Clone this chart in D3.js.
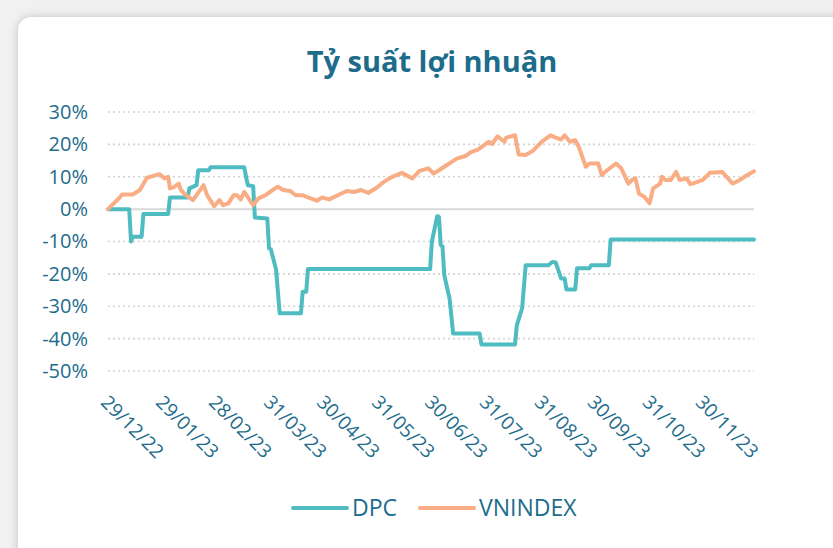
<!DOCTYPE html>
<html>
<head>
<meta charset="utf-8">
<script src="https://cdn.jsdelivr.net/npm/d3@7"></script>
<style>
  html, body { margin: 0; padding: 0; background: #f1f1f1; }
  svg { display: block; font-family: "Open Sans", "Noto Sans", sans-serif; }
</style>
</head>
<body>
<script>
// Chart data (percent returns)
const seriesNames = ['DPC', 'VNINDEX'];

const dpcDates = ['2022-12-29','2023-01-10','2023-01-11','2023-01-12','2023-01-17','2023-01-18','2023-02-01','2023-02-02',
  '2023-02-12','2023-02-13','2023-02-17','2023-02-18','2023-02-24','2023-02-25','2023-03-16','2023-03-17','2023-03-18',
  '2023-03-21','2023-03-22','2023-03-29','2023-03-30','2023-03-31','2023-04-03','2023-04-05','2023-04-17','2023-04-18',
  '2023-04-20','2023-04-21','2023-06-29','2023-06-30','2023-07-03','2023-07-04','2023-07-05','2023-07-06','2023-07-07',
  '2023-07-10','2023-07-12','2023-07-27','2023-07-28','2023-08-16','2023-08-17','2023-08-20','2023-08-22','2023-09-04',
  '2023-09-06','2023-09-08','2023-09-11','2023-09-13','2023-09-14','2023-09-19','2023-09-20','2023-09-27','2023-09-28',
  '2023-10-08','2023-10-09','2023-12-29'];
const dpcValues = [0, 0, -10, -8.5, -8.5, -1.5, -1.5, 3.6,
  3.6, 6.4, 7.4, 12, 12, 12.9, 12.9, 10, 7.4,
  7.1, -2.6, -2.9, -12.1, -12.4, -18.8, -32.2, -32.2, -25.5,
  -25.5, -18.5, -18.5, -10, -2.2, -2.4, -11.1, -11.5, -20.4,
  -27.6, -38.4, -38.4, -41.8, -41.8, -35.8, -30.6, -17.3, -17.3,
  -16.3, -16.5, -21.4, -21.4, -24.8, -24.8, -18.3, -18.3, -17.3,
  -17.3, -9.4, -9.4];

const vnDates = ['2022-12-29','2023-01-05','2023-01-06','2023-01-12','2023-01-16','2023-01-20','2023-01-27','2023-01-30',
  '2023-02-01','2023-02-02','2023-02-04','2023-02-07','2023-02-08','2023-02-10','2023-02-15','2023-02-21','2023-02-23',
  '2023-02-27','2023-03-02','2023-03-04','2023-03-07','2023-03-10','2023-03-12','2023-03-14','2023-03-16','2023-03-21',
  '2023-03-24','2023-03-28','2023-04-01','2023-04-04','2023-04-07','2023-04-11','2023-04-14','2023-04-18','2023-04-21',
  '2023-04-26','2023-04-29','2023-05-03','2023-05-09','2023-05-13','2023-05-17','2023-05-21','2023-05-25','2023-05-30',
  '2023-06-02','2023-06-07','2023-06-13','2023-06-19','2023-06-23','2023-06-28','2023-07-01','2023-07-04','2023-07-07',
  '2023-07-14','2023-07-19','2023-07-22','2023-07-26','2023-08-01','2023-08-03','2023-08-06','2023-08-10','2023-08-11',
  '2023-08-16','2023-08-18','2023-08-22','2023-08-26','2023-08-31','2023-09-05','2023-09-08','2023-09-11','2023-09-13',
  '2023-09-16','2023-09-19','2023-09-21','2023-09-25','2023-09-27','2023-10-02','2023-10-04','2023-10-07','2023-10-12',
  '2023-10-15','2023-10-19','2023-10-21','2023-10-23','2023-10-25','2023-10-28','2023-10-31','2023-11-02','2023-11-06',
  '2023-11-07','2023-11-09','2023-11-12','2023-11-15','2023-11-17','2023-11-21','2023-11-23','2023-11-25','2023-11-27',
  '2023-11-30','2023-12-04','2023-12-11','2023-12-17','2023-12-21','2023-12-25','2023-12-29'];
const vnValues = [0, 3.8, 4.5, 4.5, 5.9, 9.7, 10.8, 9.5,
  10.0, 6.4, 6.7, 7.9, 6.1, 4.8, 2.8, 7.4, 4.3,
  0.9, 2.8, 1.2, 1.8, 4.3, 4.3, 3.0, 5.3, 1.2,
  3.3, 4.3, 5.9, 6.9, 5.9, 5.6, 4.3, 4.3, 3.6,
  2.6, 3.6, 3.0, 4.6, 5.6, 5.3, 5.9, 5.0, 6.7,
  8.1, 9.8, 11.2, 9.5, 11.8, 12.6, 11.0, 12.0, 13.1,
  15.6, 16.4, 17.6, 18.4, 20.8, 20.1, 22.5, 20.8, 22.1,
  22.8, 16.9, 16.7, 18.0, 20.8, 22.8, 22.1, 21.5, 22.8,
  20.8, 21.3, 19.2, 13.1, 14.1, 14.1, 10.5, 12.0, 14.1,
  12.6, 7.9, 9.0, 9.5, 4.8, 3.8, 1.8, 6.4, 7.9,
  10.0, 9.0, 9.0, 11.5, 9.0, 9.5, 7.7, 8.0, 8.4,
  9.0, 11.2, 11.5, 7.9, 9.0, 10.5, 11.7];

const yTicks = [30, 20, 10, 0, -10, -20, -30, -40, -50];
const xTickDates = ['2022-12-29','2023-01-29','2023-02-28','2023-03-31','2023-04-30','2023-05-31',
  '2023-06-30','2023-07-31','2023-08-31','2023-09-30','2023-10-31','2023-11-30'];

const width = 833;
const height = 548;
const plot = { left: 108, right: 754, top: 112, bottom: 371 };
const textColor = '#1d6c8b';
const colors = { DPC: '#4fbcc1', VNINDEX: '#f9ad84' };

const parse = d3.timeParse('%Y-%m-%d');

const svg = d3.select('body')
  .append('svg')
  .attr('width', width)
  .attr('height', height);

// card with shadow
const defs = svg.append('defs');
const shadow = defs.append('filter').attr('id', 'shadow')
  .attr('x', '-10%').attr('y', '-10%').attr('width', '130%').attr('height', '130%');
shadow.append('feDropShadow')
  .attr('dx', 0).attr('dy', 0).attr('stdDeviation', 5)
  .attr('flood-color', '#000').attr('flood-opacity', 0.2);

svg.append('rect')
  .attr('x', 18).attr('y', 17)
  .attr('width', 900).attr('height', 600)
  .attr('rx', 14)
  .attr('fill', '#fff')
  .attr('filter', 'url(#shadow)');

// title
svg.append('text')
  .attr('x', 432)
  .attr('y', 72)
  .attr('text-anchor', 'middle')
  .attr('font-size', 29)
  .attr('font-weight', 700)
  .attr('fill', textColor)
  .text('Tỷ suất lợi nhuận');

// scales
const x = d3.scaleTime()
  .domain([parse('2022-12-29'), parse('2023-12-29')])
  .range([plot.left, plot.right]);

const y = d3.scaleLinear()
  .domain([-50, 30])
  .range([plot.bottom, plot.top]);

// gridlines
svg.append('g')
  .selectAll('line')
  .data(yTicks)
  .enter()
  .append('line')
  .attr('x1', plot.left)
  .attr('x2', plot.right)
  .attr('y1', d => y(d))
  .attr('y2', d => y(d))
  .attr('stroke', d => d === 0 ? '#d9d9d9' : '#d4d4d4')
  .attr('stroke-width', d => d === 0 ? 2 : 1.6)
  .attr('stroke-dasharray', d => d === 0 ? null : '2,3');

// y axis
const yAxis = svg.append('g')
  .attr('transform', `translate(${plot.left}, 0)`)
  .call(d3.axisLeft(y).tickValues(yTicks).tickSize(0).tickPadding(20).tickFormat(d => d + '%'));
yAxis.select('.domain').remove();
yAxis.selectAll('text')
  .attr('font-size', 20)
  .attr('font-family', '"Open Sans", sans-serif')
  .attr('fill', textColor);

// x axis
const xAxis = svg.append('g')
  .attr('transform', `translate(0, 392)`)
  .call(d3.axisBottom(x).tickValues(xTickDates.map(parse)).tickSize(0).tickFormat(d3.timeFormat('%d/%m/%y')));
xAxis.select('.domain').remove();
xAxis.selectAll('text')
  .attr('font-size', 19)
  .attr('font-family', '"Open Sans", sans-serif')
  .attr('fill', textColor)
  .attr('text-anchor', 'start')
  .attr('x', 2)
  .attr('y', 0)
  .attr('dy', '0.75em')
  .attr('transform', 'rotate(45)');

// lines
const line = d3.line()
  .x(d => x(d.date))
  .y(d => y(d.value));

const dpcData = dpcDates.map((d, i) => ({ date: parse(d), value: dpcValues[i] }));
const vnData = vnDates.map((d, i) => ({ date: parse(d), value: vnValues[i] }));

svg.append('path')
  .datum(dpcData)
  .attr('d', line)
  .attr('fill', 'none')
  .attr('stroke', colors.DPC)
  .attr('stroke-width', 4)
  .attr('stroke-linejoin', 'round')
  .attr('stroke-linecap', 'round');

svg.append('path')
  .datum(vnData)
  .attr('d', line)
  .attr('fill', 'none')
  .attr('stroke', colors.VNINDEX)
  .attr('stroke-width', 4)
  .attr('stroke-linejoin', 'round')
  .attr('stroke-linecap', 'round');

// legend
const legendX = [293, 420];
const legend = svg.append('g')
  .attr('class', 'legend')
  .attr('transform', 'translate(0, 508)');

legend.selectAll('.legend-item')
  .data(seriesNames)
  .enter()
  .append('g')
  .attr('class', 'legend-item')
  .attr('transform', (d, i) => `translate(${legendX[i]}, 0)`)
  .each(function (d) {
    d3.select(this)
      .append('line')
      .attr('x1', 0)
      .attr('x2', 54)
      .attr('stroke', colors[d])
      .attr('stroke-width', 4)
      .attr('stroke-linecap', 'round');

    d3.select(this)
      .append('text')
      .attr('x', 59)
      .attr('dy', '0.35em')
      .attr('font-size', 23)
      .attr('fill', textColor)
      .text(d);
  });
</script>
</body>
</html>
